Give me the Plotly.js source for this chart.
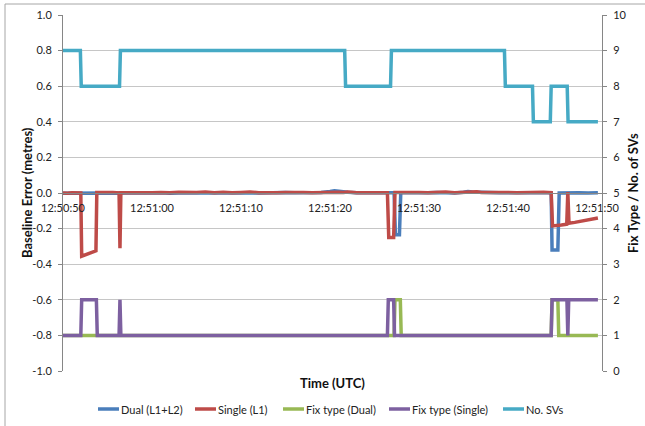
<!DOCTYPE html>
<html>
<head>
<meta charset="utf-8">
<script src="https://cdn.plot.ly/plotly-3.0.1.min.js"></script>
<style>html,body{margin:0;padding:0;background:#fff;}#chart{width:645px;height:426px;}</style>
</head>
<body>
<div id="chart"></div>
<script>
// Seconds after 12:50:50 (UTC)
const xTickVals = [0, 10, 20, 30, 40, 50, 60];
const xTickText = ['12:50:50', '12:51:00', '12:51:10', '12:51:20', '12:51:30', '12:51:40', '12:51:50'];
const yTickVals = [-1, -0.8, -0.6, -0.4, -0.2, 0, 0.2, 0.4, 0.6, 0.8, 1];
const yTickText = ['-1.0', '-0.8', '-0.6', '-0.4', '-0.2', '0.0', '0.2', '0.4', '0.6', '0.8', '1.0'];

// Dual (L1+L2) baseline error, metres
const tDual = [0, 1, 2, 3, 4, 5, 6, 7, 8, 9, 10, 11, 12, 13, 14, 15, 16, 17, 18, 19, 20, 21, 22, 23, 24, 25, 26, 27, 28, 29, 30, 30.5, 31, 31.5, 32, 33, 34, 35, 36, 37.2, 37.35, 37.8, 37.95, 38.5, 39, 40, 41, 42, 43, 44, 45, 45.5, 46, 47, 48, 49, 50, 51, 52, 53, 54, 54.85, 54.95, 55.6, 55.75, 56.5, 57, 58, 59, 60.1];
const yDual = [-0.001, 0.000, -0.002, -0.001, 0.001, 0.000, -0.001, 0.002, 0.001, 0.000, 0.002, 0.001, -0.001, 0.001, 0.002, 0.000, 0.001, 0.003, 0.001, 0.000, 0.002, 0.001, 0.000, 0.002, 0.001, 0.003, 0.001, 0.002, 0.000, 0.003, 0.008, 0.012, 0.010, 0.006, 0.004, 0.002, 0.001, 0.002, 0.001, 0.002, -0.235, -0.235, 0.002, 0.001, 0.003, 0.002, 0.001, 0.003, 0.002, 0.000, 0.004, 0.008, 0.006, 0.003, 0.002, 0.001, 0.002, 0.000, 0.002, 0.001, 0.002, 0.001, -0.32, -0.32, 0.000, 0.002, 0.001, 0.002, 0.000, 0.002];

// Single (L1) baseline error, metres
const tSingle = [0, 0.5, 1, 1.5, 2.0, 2.1, 3.7, 3.8, 4.3, 5.0, 5.6, 6.3, 6.4, 6.5, 7.2, 8, 9, 10, 11, 12, 13, 14, 15, 16, 17, 18, 19, 20, 21, 22, 23, 24, 25, 26, 27, 28, 29, 30, 30.5, 31, 31.5, 32, 33, 34, 35, 36, 36.45, 36.6, 37.15, 37.3, 38, 39, 40, 41, 42, 43, 44, 45, 45.5, 46, 46.5, 47, 48, 49, 50, 51, 52, 53, 54, 54.85, 55.0, 56.0, 56.6, 56.72, 56.85, 57.5, 58.5, 59.3, 60.1];
const ySingle = [0.000, -0.002, 0.001, -0.001, 0.000, -0.355, -0.325, 0.003, 0.004, 0.002, 0.003, 0.001, -0.31, 0.002, 0.003, 0.001, 0.004, 0.002, 0.003, 0.001, 0.004, 0.002, 0.003, 0.005, 0.002, 0.004, 0.001, 0.003, 0.005, 0.002, 0.004, 0.002, 0.003, 0.001, 0.003, 0.002, 0.004, 0.005, 0.007, 0.004, 0.003, 0.005, 0.002, 0.003, 0.001, 0.003, 0.002, -0.25, -0.25, 0.003, 0.004, 0.002, 0.003, 0.001, 0.003, 0.005, 0.002, 0.004, 0.008, 0.005, 0.007, 0.003, 0.004, 0.002, 0.003, 0.001, 0.003, 0.002, 0.004, 0.002, -0.185, -0.18, -0.175, 0.005, -0.17, -0.165, -0.157, -0.15, -0.14];

// Fix type (Dual), right axis
const tFixDual = [0, 37.2, 37.3, 37.9, 38.0, 54.85, 54.95, 55.6, 55.7, 60.1];
const yFixDual = [1, 1, 2, 2, 1, 1, 2, 2, 1, 1];

// Fix type (Single), right axis
const tFixSingle = [0, 2.0, 2.1, 3.75, 3.85, 6.3, 6.4, 6.5, 36.45, 36.55, 37.15, 37.25, 54.85, 54.95, 56.62, 56.72, 56.82, 60.1];
const yFixSingle = [1, 1, 2, 2, 1, 1, 2, 1, 1, 2, 2, 1, 1, 2, 2, 1, 2, 2];

// No. SVs, right axis
const tSVs = [0, 1.95, 2.05, 6.35, 6.45, 31.65, 31.75, 36.8, 36.9, 49.6, 49.7, 52.75, 52.85, 54.75, 54.85, 56.65, 56.75, 60.1];
const ySVs = [9, 9, 8, 8, 9, 9, 8, 8, 9, 9, 8, 8, 7, 7, 8, 8, 7, 7];

const seriesNames = ['Dual (L1+L2)', 'Single (L1)', 'Fix type (Dual)', 'Fix type (Single)', 'No. SVs'];
const seriesColors = ['#4A7EBB', '#BE4B48', '#98B954', '#7D60A0', '#46AAC5'];

const LW = 3.5;
const FONT = 'Lato, "Open Sans", sans-serif';
const W = 645, H = 426, ML = 63, MR = 43, MT = 15, MB = 55;
const PW = W - ML - MR, PH = H - MT - MB;
const px = v => (v - ML) / PW;
const py = v => (H - MB - v) / PH;

const data = [[tDual, yDual, 'y'], [tSingle, ySingle, 'y'], [tFixDual, yFixDual, 'y2'], [tFixSingle, yFixSingle, 'y2'], [tSVs, ySVs, 'y2']];
const traces = data.map((d, i) => ({
  x: d[0], y: d[1], yaxis: d[2], name: seriesNames[i], type: 'scatter', mode: 'lines',
  line: {color: seriesColors[i], width: LW}
}));

// Custom legend (Excel style: short line sample, text right after)
const legendX = [98, 195, 283, 389, 503];
const legendY = 409;
const legendShapes = legendX.map((lx, i) => ({
  type: 'line', xref: 'paper', yref: 'paper', x0: px(lx), x1: px(lx + 21), y0: py(legendY), y1: py(legendY),
  line: {color: seriesColors[i], width: LW}
}));
const legendAnn = legendX.map((lx, i) => ({
  text: seriesNames[i], xref: 'paper', yref: 'paper', x: px(lx + 21), y: py(legendY), xanchor: 'left', yanchor: 'middle',
  showarrow: false, font: {size: 11, family: FONT, color: '#222'}
}));

const layout = {
  width: W, height: H,
  margin: {l: ML, r: MR, t: MT, b: MB, pad: 0, autoexpand: false},
  paper_bgcolor: '#ffffff', plot_bgcolor: '#ffffff',
  font: {family: FONT, size: 11, color: '#222'},
  showlegend: false,
  xaxis: {
    range: [0, 60.56], anchor: 'free', position: 0.5, automargin: false,
    tickvals: xTickVals, ticktext: xTickText, ticks: '', ticklabelstandoff: 5,
    showgrid: false, zeroline: false, showline: true, linecolor: '#868686', linewidth: 1,
    tickfont: {size: 11, color: '#222'}
  },
  yaxis: {
    range: [-1, 1], tickvals: yTickVals, ticktext: yTickText, automargin: false,
    showgrid: true, gridcolor: '#C6C6C6', gridwidth: 1, zeroline: false,
    showline: true, linecolor: '#868686', linewidth: 1, ticks: 'outside', ticklen: 4, tickcolor: '#868686',
    tickfont: {size: 11, color: '#222'}, ticklabelstandoff: 4
  },
  yaxis2: {
    range: [0, 10], dtick: 1, tick0: 0, overlaying: 'y', side: 'right', automargin: false,
    showgrid: false, zeroline: false, showline: true, linecolor: '#868686', linewidth: 1,
    ticks: 'outside', ticklen: 4, tickcolor: '#868686',
    tickfont: {size: 11, color: '#222'}, ticklabelstandoff: 4
  },
  annotations: [
    {text: '<b>Baseline Error (metres)</b>', xref: 'paper', yref: 'paper', x: px(27), y: 0.5, textangle: -90, showarrow: false, font: {size: 13, family: FONT, color: '#111'}, xanchor: 'center', yanchor: 'middle'},
    {text: '<b>Fix Type / No. of SVs</b>', xref: 'paper', yref: 'paper', x: px(633), y: 0.5, textangle: -90, showarrow: false, font: {size: 13, family: FONT, color: '#111'}, xanchor: 'center', yanchor: 'middle'},
    {text: '<b>Time (UTC)</b>', xref: 'paper', yref: 'paper', x: 0.5, y: py(383), showarrow: false, font: {size: 13, family: FONT, color: '#111'}, xanchor: 'center', yanchor: 'middle'}
  ].concat(legendAnn),
  shapes: [
    {type: 'rect', xref: 'paper', yref: 'paper', x0: px(5), x1: px(700), y0: py(480), y1: py(4), line: {color: '#A6A6A6', width: 1}, fillcolor: 'rgba(0,0,0,0)', layer: 'below'}
  ].concat(legendShapes)
};

Plotly.newPlot('chart', traces, layout, {staticPlot: true, displayModeBar: false});
</script>
</body>
</html>
